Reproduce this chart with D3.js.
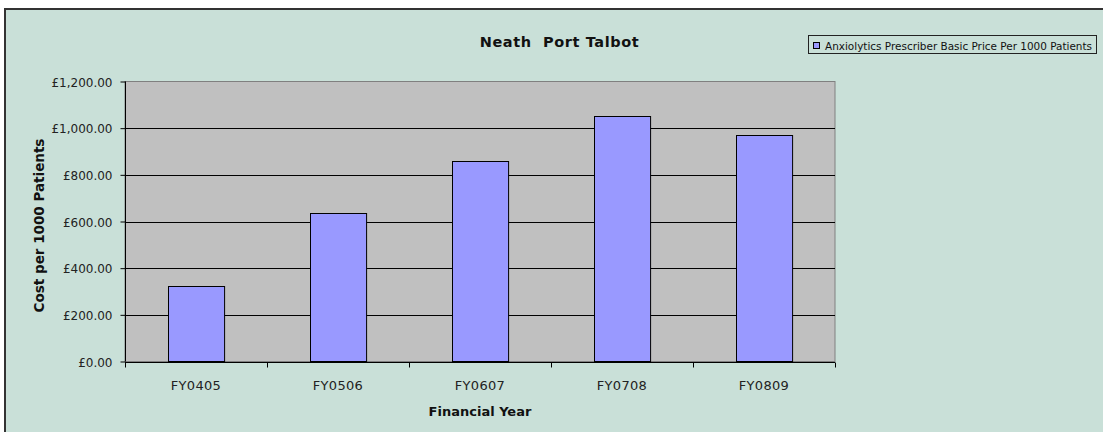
<!DOCTYPE html>
<html><head><meta charset="utf-8">
<script src="https://cdn.jsdelivr.net/npm/d3@7"></script>
<style>body{margin:0;background:#fff;}svg{display:block;}</style>
</head><body>
<svg id="c" width="1103" height="432"></svg>
<script>
const categories = ["FY0405","FY0506","FY0607","FY0708","FY0809"];
const values = [323, 636, 859, 1053, 972];
const yTicks = [0, 200, 400, 600, 800, 1000, 1200];
const seriesName = "Anxiolytics Prescriber Basic Price Per 1000 Patients";
const title = "Neath  Port Talbot";
const xTitle = "Financial Year";
const yTitle = "Cost per 1000 Patients";

const svg = d3.select("#c");
const font = "'DejaVu Sans', Verdana, sans-serif";
// outer chart area
svg.append("rect").attr("x",5).attr("y",9).attr("width",1110).attr("height",440)
  .attr("fill","#C9E0D8").attr("stroke","#333").attr("stroke-width",2);

const L=125, R=835, T=81.5, B=361.5;
const x = d3.scaleBand().domain(categories).range([L,R]).paddingInner(0.605).paddingOuter(0.3025);
const xb = d3.scaleBand().domain(categories).range([L,R]);
const y = d3.scaleLinear().domain([0,1200]).range([B,T]);

svg.append("rect").attr("x",L).attr("y",T).attr("width",R-L).attr("height",B-T)
  .attr("fill","#C0C0C0").attr("stroke","#808080").attr("stroke-width",1);

svg.append("g").selectAll("line").data(yTicks.filter(d=>d>0&&d<1200)).join("line")
  .attr("x1",L).attr("x2",R).attr("y1",d=>Math.round(y(d))+0.5).attr("y2",d=>Math.round(y(d))+0.5)
  .attr("stroke","#000").attr("stroke-width",1);

svg.append("g").selectAll("rect").data(values).join("rect")
  .attr("x",(d,i)=>Math.round(x(categories[i]))+0.5)
  .attr("y",d=>Math.round(y(d))+0.5)
  .attr("width",x.bandwidth())
  .attr("height",d=>B-Math.round(y(d))-0.5)
  .attr("fill","#9999FF").attr("stroke","#000").attr("stroke-width",1);

// y axis
const ya = d3.axisLeft(y).tickValues(yTicks).tickSize(5).tickPadding(8)
  .tickFormat(d=>"£"+d3.format(",.2f")(d));
const yg = svg.append("g").attr("transform",`translate(${L+0.5},0)`).call(ya);
yg.select(".domain").attr("stroke","#000").attr("d",`M0,${T}V${B}`);
yg.selectAll(".tick line").attr("stroke","#000");
yg.selectAll("text").attr("font-family",font).attr("font-size",12).attr("fill","#222").attr("dy","0.4em");

// x axis
const xg = svg.append("g").attr("transform",`translate(0,${Math.round(B)+0.5})`);
xg.append("line").attr("x1",L).attr("x2",R).attr("stroke","#000");
const bounds = categories.map(c=>xb(c)).concat([R]);
xg.selectAll("line.t").data(bounds).join("line").attr("class","t")
  .attr("x1",d=>Math.round(d)+0.5).attr("x2",d=>Math.round(d)+0.5).attr("y1",0).attr("y2",5).attr("stroke","#000");
xg.selectAll("text").data(categories).join("text")
  .attr("x",d=>xb(d)+xb.bandwidth()/2).attr("y",27)
  .attr("text-anchor","middle").attr("font-family",font).attr("font-size",13).attr("letter-spacing",0.3).attr("fill","#222").text(d=>d);

svg.append("text").attr("x",(L+R)/2).attr("y",415.5).attr("text-anchor","middle")
  .attr("font-family",font).attr("font-size",13).attr("font-weight","bold").attr("fill","#111").text(xTitle);
svg.append("text").attr("transform",`translate(43.5,225.5) rotate(-90)`).attr("text-anchor","middle")
  .attr("font-family",font).attr("font-size",13.5).attr("font-weight","bold").attr("fill","#111").text(yTitle);
svg.append("text").attr("x",559.5).attr("y",46.5).attr("text-anchor","middle").style("white-space","pre")
  .attr("font-family",font).attr("font-size",14.5).attr("font-weight","bold").attr("letter-spacing",0.6).attr("fill","#111").text(title);

// legend
const lg = svg.append("g");
lg.append("rect").attr("x",808.5).attr("y",35.5).attr("width",288).attr("height",18)
  .attr("fill","#C9E0D8").attr("stroke","#222");
lg.append("rect").attr("x",813.5).attr("y",42.5).attr("width",6).attr("height",6).attr("fill","#9999FF").attr("stroke","#000");
lg.append("text").attr("x",825).attr("y",49.5).attr("font-family",font).attr("font-size",10.5)
  .attr("textLength",267).attr("lengthAdjust","spacingAndGlyphs").attr("fill","#111").text(seriesName);
</script>
</body></html>
